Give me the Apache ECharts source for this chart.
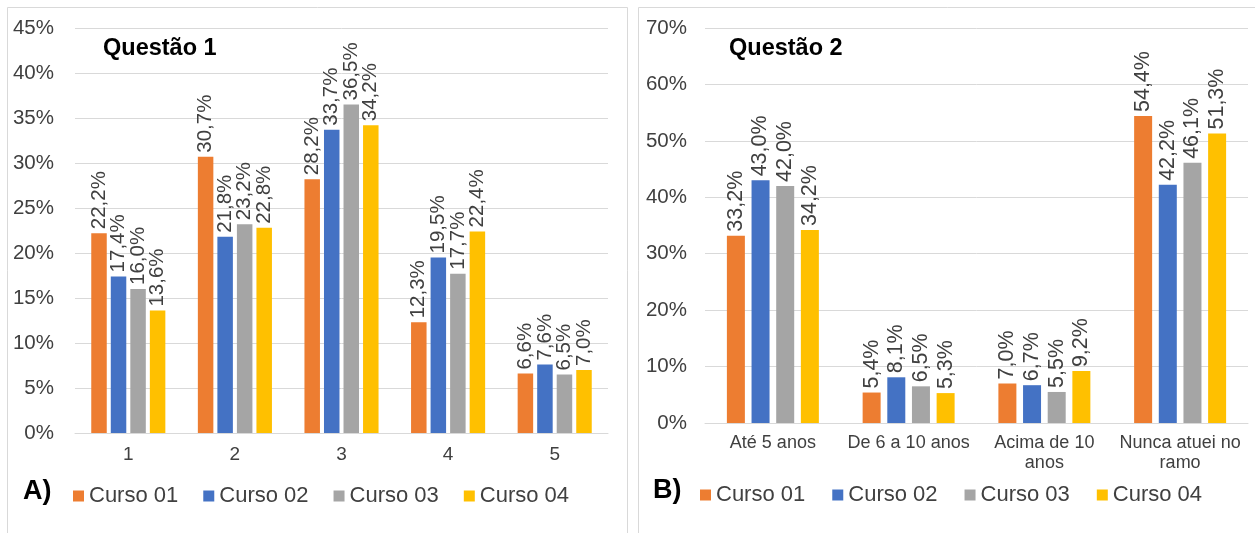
<!DOCTYPE html>
<html>
<head>
<meta charset="utf-8">
<script src="https://cdn.jsdelivr.net/npm/echarts@6/dist/echarts.min.js"></script>
<style>
html,body{margin:0;padding:0;background:#fff;}
#c{width:1255px;height:533px;}
</style>
</head>
<body>
<div id="c"></div>
<script>
const seriesNames = ['Curso 01', 'Curso 02', 'Curso 03', 'Curso 04'];
const colors = ['#ED7D31', '#4472C4', '#A5A5A5', '#FFC000'];

const q1Categories = ['1', '2', '3', '4', '5'];
const q1Curso01 = [22.2, 30.7, 28.2, 12.3, 6.6];
const q1Curso02 = [17.4, 21.8, 33.7, 19.5, 7.6];
const q1Curso03 = [16.0, 23.2, 36.5, 17.7, 6.5];
const q1Curso04 = [13.6, 22.8, 34.2, 22.4, 7.0];

const q2Categories = ['Até 5 anos', 'De 6 a 10 anos', 'Acima de 10\nanos', 'Nunca atuei no\nramo'];
const q2Curso01 = [33.2, 5.4, 7.0, 54.4];
const q2Curso02 = [43.0, 8.1, 6.7, 42.2];
const q2Curso03 = [42.0, 6.5, 5.5, 46.1];
const q2Curso04 = [34.2, 5.3, 9.2, 51.3];

const q1Ticks = {min: 0, max: 45, interval: 5};
const q2Ticks = {min: 0, max: 70, interval: 10};

const FONT = '"Liberation Sans", Arial, sans-serif';
const q1Data = [q1Curso01, q1Curso02, q1Curso03, q1Curso04];
const q2Data = [q2Curso01, q2Curso02, q2Curso03, q2Curso04];

function fmt(v) { return v.toFixed(1).replace('.', ',') + '%'; }

function makeSeries(dataSets, idx, barWidth, barGap, labelSize) {
  return dataSets.map((d, i) => ({
    name: seriesNames[i],
    type: 'bar',
    xAxisIndex: idx,
    yAxisIndex: idx,
    data: d,
    barWidth: barWidth,
    barGap: barGap,
    itemStyle: {color: colors[i]},
    label: {
      show: true,
      position: 'top',
      rotate: 90,
      align: 'left',
      verticalAlign: 'middle',
      distance: 4,
      fontFamily: FONT,
      fontSize: labelSize,
      color: '#404040',
      formatter: p => fmt(p.value)
    }
  }));
}

const gridLine = {show: true, lineStyle: {color: '#D9D9D9', width: 1}};
const yLabel = {fontFamily: FONT, fontSize: 20.5, color: '#404040', formatter: '{value}%'};

const chart = echarts.init(document.getElementById('c'), null, {renderer: 'canvas'});
chart.setOption({
  animation: false,
  backgroundColor: '#fff',
  textStyle: {fontFamily: FONT},
  grid: [
    {left: 75, right: 1255 - 608, top: 28, bottom: 533 - 433},
    {left: 705, right: 7, top: 28, bottom: 533 - 423}
  ],
  xAxis: [
    {gridIndex: 0, type: 'category', data: q1Categories,
     axisLine: {lineStyle: {color: '#D9D9D9'}}, axisTick: {show: false},
     axisLabel: {fontFamily: FONT, fontSize: 19, color: '#404040', margin: 12}},
    {gridIndex: 1, type: 'category', data: q2Categories,
     axisLine: {lineStyle: {color: '#D9D9D9'}}, axisTick: {show: false},
     axisLabel: {fontFamily: FONT, fontSize: 18, color: '#404040', margin: 10, lineHeight: 20, interval: 0}}
  ],
  yAxis: [
    {gridIndex: 0, type: 'value', min: q1Ticks.min, max: q1Ticks.max, interval: q1Ticks.interval,
     splitLine: gridLine, axisLine: {show: false}, axisTick: {show: false},
     axisLabel: Object.assign({margin: 21}, yLabel)},
    {gridIndex: 1, type: 'value', min: q2Ticks.min, max: q2Ticks.max, interval: q2Ticks.interval,
     splitLine: gridLine, axisLine: {show: false}, axisTick: {show: false},
     axisLabel: Object.assign({margin: 18}, yLabel)}
  ],
  legend: [
    {data: seriesNames, left: 68, top: 480, icon: 'rect', itemWidth: 11, itemHeight: 11, itemGap: 25,
     textStyle: {fontFamily: FONT, fontSize: 22, color: '#404040'}, selectedMode: false},
    {data: seriesNames, left: 695, top: 479, icon: 'rect', itemWidth: 11, itemHeight: 11, itemGap: 27,
     textStyle: {fontFamily: FONT, fontSize: 22, color: '#404040'}, selectedMode: false}
  ],
  graphic: [
    {type: 'rect', silent: true, z: -1, shape: {x: 7.5, y: 7.5, width: 620, height: 540}, style: {fill: 'none', stroke: '#D9D9D9', lineWidth: 1}},
    {type: 'rect', silent: true, z: -1, shape: {x: 638.5, y: 7.5, width: 630, height: 540}, style: {fill: 'none', stroke: '#D9D9D9', lineWidth: 1}},
    {type: 'text', left: 103, top: 37, style: {text: 'Questão 1', font: 'bold 23.5px "Liberation Sans", Arial, sans-serif', fill: '#000'}},
    {type: 'text', left: 729, top: 37, style: {text: 'Questão 2', font: 'bold 23.5px "Liberation Sans", Arial, sans-serif', fill: '#000'}},
    {type: 'text', left: 23, top: 478, style: {text: 'A)', font: 'bold 27px "Liberation Sans", Arial, sans-serif', fill: '#000'}},
    {type: 'text', left: 653, top: 477, style: {text: 'B)', font: 'bold 27px "Liberation Sans", Arial, sans-serif', fill: '#000'}}
  ],
  series: [].concat(makeSeries(q1Data, 0, 15.5, '26%', 20.5), makeSeries(q2Data, 1, 18, '37%', 21.5))
});
</script>
</body>
</html>
